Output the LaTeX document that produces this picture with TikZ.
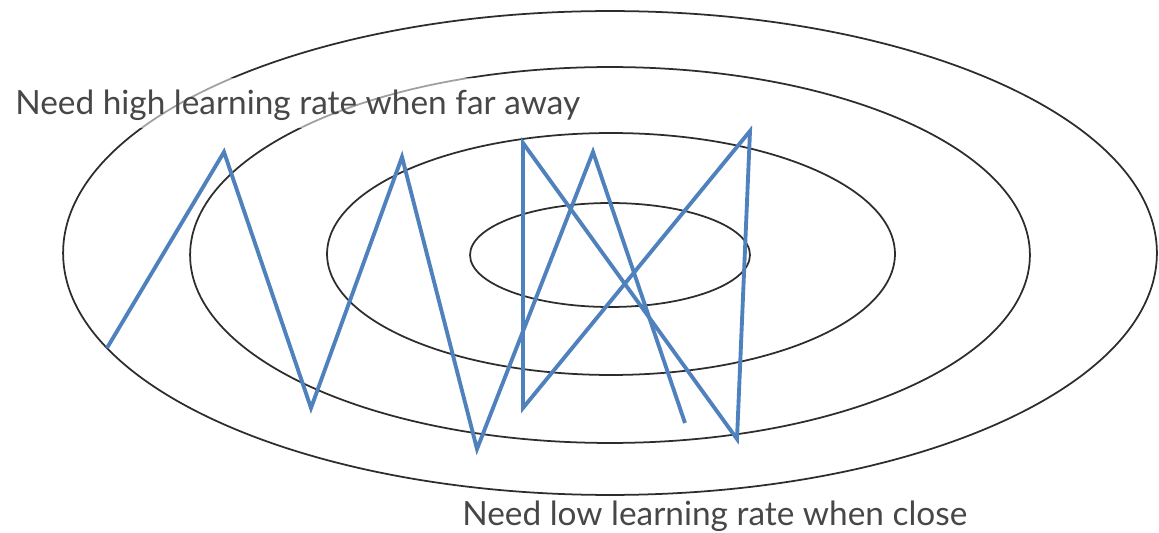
\documentclass[tikz,border=0pt]{standalone}
\usepackage{fontspec}
\setmainfont{Lato}
\usepackage{xcolor}
\usepackage{tikz}
\usetikzlibrary{calc}
\definecolor{ringgray}{RGB}{45,45,45}
\definecolor{stepblue}{RGB}{79,129,189}

\begin{document}
\begin{tikzpicture}[x=0.02cm,y=-0.02cm,
  ring/.style={draw=ringgray,line width=1pt},
  zigzag/.style={draw=stepblue,line width=2.2pt,line join=miter},
  note/.style={font=\fontsize{19}{22}\selectfont,text=black!72,inner sep=0pt}]

  \useasboundingbox (0,0) rectangle (1159,533);

  % contour rings of the loss surface
  \draw[ring] (610,253) ellipse [x radius=10.94cm,y radius=4.84cm];
  \draw[ring] (610,255) ellipse [x radius=8.40cm,y radius=3.76cm];
  \draw[ring] (611,254) ellipse [x radius=5.68cm,y radius=2.42cm];
  \draw[ring] (610,255) ellipse [x radius=2.80cm,y radius=1.04cm];

  % label box over the rings
  \fill[white,opacity=0.55] (0,78) rectangle (600,128);
  \node[note,anchor=base west] (far) at (15,115) {Need high learning rate when far away};
  \node[note,anchor=base west] (close) at (462,525) {Need low learning rate when close};

  % descent steps
  \coordinate (s1) at (107,348);
  \coordinate (s2) at (224,152);
  \coordinate (s3) at (311,408);
  \coordinate (s4) at (402,157);
  \coordinate (s5) at (477,449);
  \coordinate (s6) at (593,152);
  \coordinate (s7) at (685,423);
  \coordinate (t1) at (523,143);
  \coordinate (t2) at (523,408);
  \coordinate (t3) at (750,131);
  \coordinate (t4) at (737,439);

  \draw[zigzag] (s1) -- (s2) -- (s3) -- (s4) -- (s5) -- (s6) -- (s7);
  \draw[zigzag] (t1) -- (t2) -- (t3) -- (t4) -- cycle;

\end{tikzpicture}
\end{document}
